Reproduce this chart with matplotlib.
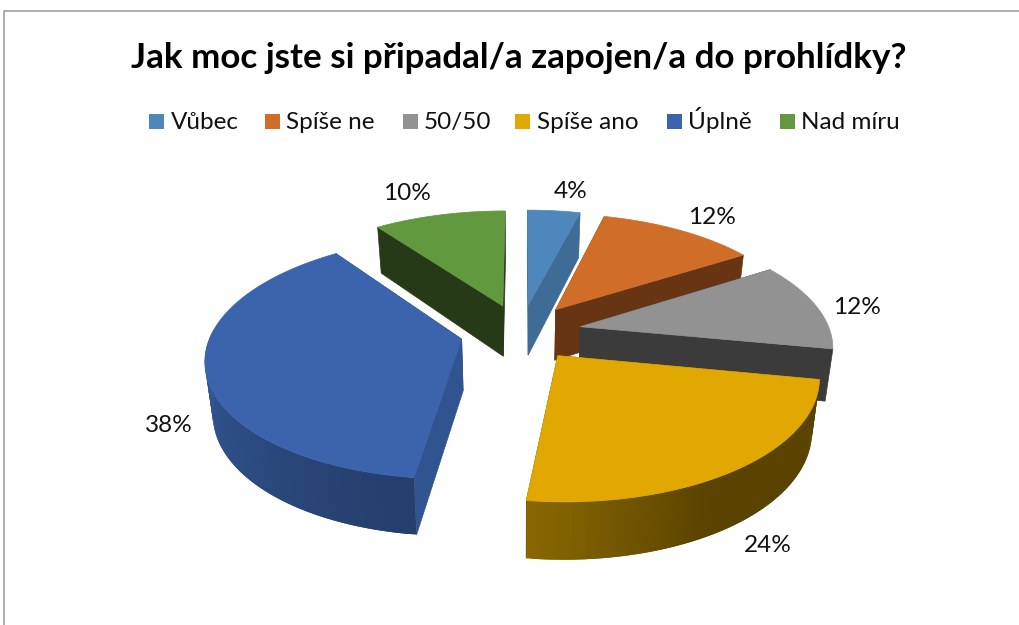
# -*- coding:utf-8 -*-
import numpy as np
import matplotlib as mpl
mpl.use('Agg')
import matplotlib.pyplot as plt
from matplotlib.patches import Polygon, Rectangle

title = 'Jak moc jste si připadal/a zapojen/a do prohlídky?'
labels = ['Vůbec', 'Spíše ne', '50/50', 'Spíše ano', 'Úplně', 'Nad míru']
values = [4, 12, 12, 24, 38, 10]
colors = ['#4E87BC', '#D06D28', '#929292', '#E0A800', '#3B64AC', '#62993E']
cut_colors = ['#3E6C96', '#673414', '#3B3B3B', '#5A4400', '#2F5490', '#263A17']

# layout of the pie in pixels
cx, cy = 521, 332
A, B = 250, 116.5
q = 0.15
explode = 0.243

legend_box_x = [149, 265, 403, 515, 667, 780]
legend_text_x = [171, 286, 424, 537, 688, 801]
label_pos = [(571, 192), (712, 218), (857, 307), (768, 545), (169, 426), (407, 194)]

plt.rcParams['font.family'] = ['Lato', 'DejaVu Sans']


def project(u, v):
    s = 1 / (1 + q * v)
    return cx + A * u * s, cy - B * v * s


def lower(x, y, v):
    # bottom of the pie, a bit narrower because it is further from the camera
    return cx + (x - cx) * 0.975, y + 51.5 - 5.3 * v


def brightness(deg):
    return np.interp(deg, [100, 150, 187, 270], [0.4, 0.4, 0.62, 0.88])


def draw_slice(ax, start, end, color, cut_color):
    mid = np.radians((start + end) / 2)
    ou, ov = explode * np.sin(mid), explode * np.cos(mid)
    deg = np.linspace(start, end, 90)
    t = np.radians(deg)
    u = ou + np.sin(t)
    v = ov + np.cos(t)
    x, y = project(u, v)
    xb, yb = lower(x, y, v)
    ax0, ay0 = project(ou, ov)
    axb, ayb = lower(ax0, ay0, ov)

    # the two cut faces
    for i in [0, -1]:
        ax.add_patch(Polygon([(ax0, ay0), (x[i], y[i]), (xb[i], yb[i]), (axb, ayb)],
                             facecolor=cut_color, edgecolor=cut_color, lw=0.5))
    # outer wall, in overlapping strips to get the gradient, front half only
    base = np.array(mpl.colors.to_rgb(color))
    for i in range(len(deg) - 2):
        if deg[i] < 100 or deg[i] > 272:
            continue
        c = base * brightness(deg[i])
        ax.add_patch(Polygon([(x[i], y[i]), (x[i + 2], y[i + 2]), (xb[i + 2], yb[i + 2]), (xb[i], yb[i])],
                             facecolor=c, edgecolor='none'))
    # top
    pts = [(ax0, ay0)] + list(zip(x, y))
    ax.add_patch(Polygon(pts, facecolor=color, edgecolor=color, lw=0.5))


fig = plt.figure(figsize=(10.19, 6.25), dpi=100)
ax = fig.add_axes([0, 0, 1, 1])
ax.set_xlim(0, 1019)
ax.set_ylim(625, 0)
ax.axis('off')

# chart frame
ax.plot([4, 4, 1019], [625, 11, 11], color='#A0A0A0', lw=1.2)

ax.text(519, 58, title, fontsize=25.2, fontweight='bold', ha='center', va='center', color='black')

for i in range(len(labels)):
    ax.add_patch(Rectangle((legend_box_x[i], 114), 15, 15, facecolor=colors[i], edgecolor='none'))
    ax.text(legend_text_x[i], 129, labels[i], fontsize=17.5, ha='left', va='baseline', color='#111111')

total = sum(values)
edges = np.cumsum([0] + values) / total * 360
# paint from the back of the pie to the front
mids = (edges[:-1] + edges[1:]) / 2
order = np.argsort(-np.cos(np.radians(mids)))
for i in order:
    draw_slice(ax, edges[i], edges[i + 1], colors[i], cut_colors[i])

for i in range(len(values)):
    ax.text(label_pos[i][0], label_pos[i][1], '%d%%' % values[i], fontsize=17.6,
            ha='center', va='center', color='#111111')

fig.savefig('out.png', dpi=100)
plt.close()
